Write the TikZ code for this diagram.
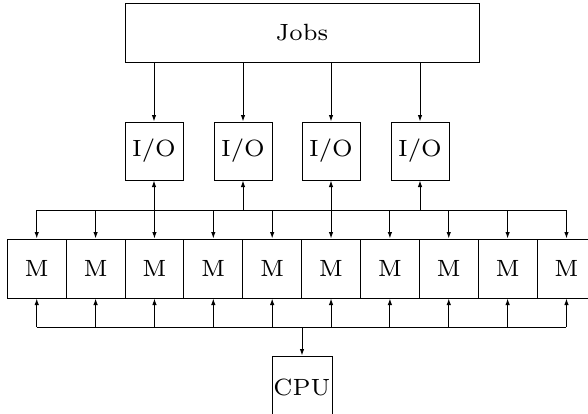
\documentclass[tikz,border=0pt]{standalone}
\usepackage{fontspec}
\newfontfamily\lmseven{lmroman7-regular.otf}
\usetikzlibrary{arrows.meta}
\begin{document}
\begin{tikzpicture}[x=1pt,y=-1pt,line width=1pt,
  box/.style={draw,rectangle,inner sep=0pt,font=\lmseven\fontsize{23.5}{28}\selectfont},
  iobox/.style={box,minimum width=58pt,minimum height=58pt},
  membox/.style={box,minimum width=58.86pt,minimum height=59pt},
  arr/.style={-{Latex[length=6.5pt,width=4.5pt]}}]
\clip (0,0) rectangle (588,413);
\node[box,minimum width=354pt,minimum height=59pt] (jobs) at (302,33) {Jobs};
\foreach \i/\x in {1/154,2/243,3/331,4/420}
  \node[iobox] (io\i) at (\x,151) {I/O};
\foreach \k in {0,...,9}
  \node[membox] (m\k) at ({36.73+58.86*\k},268.5) {M};
\node[box,minimum width=60pt,minimum height=62pt] (cpu) at (302,387) {CPU};
\coordinate (tb) at (0,210);
\coordinate (bb) at (0,327);
\draw (tb -| m0) -- (tb -| m9);
\draw (bb -| m0) -- (bb -| m9);
\foreach \i in {1,...,4} {
  \draw[arr] (jobs.south -| io\i) -- (io\i.north);
  \draw[arr] (tb -| io\i) -- (io\i.south);
}
\foreach \k in {0,...,9} {
  \draw[arr] (tb -| m\k) -- (m\k.north);
  \draw[arr] (bb -| m\k) -- (m\k.south);
}
\draw[arr] (bb -| cpu) -- (cpu.north);
\end{tikzpicture}
\end{document}
